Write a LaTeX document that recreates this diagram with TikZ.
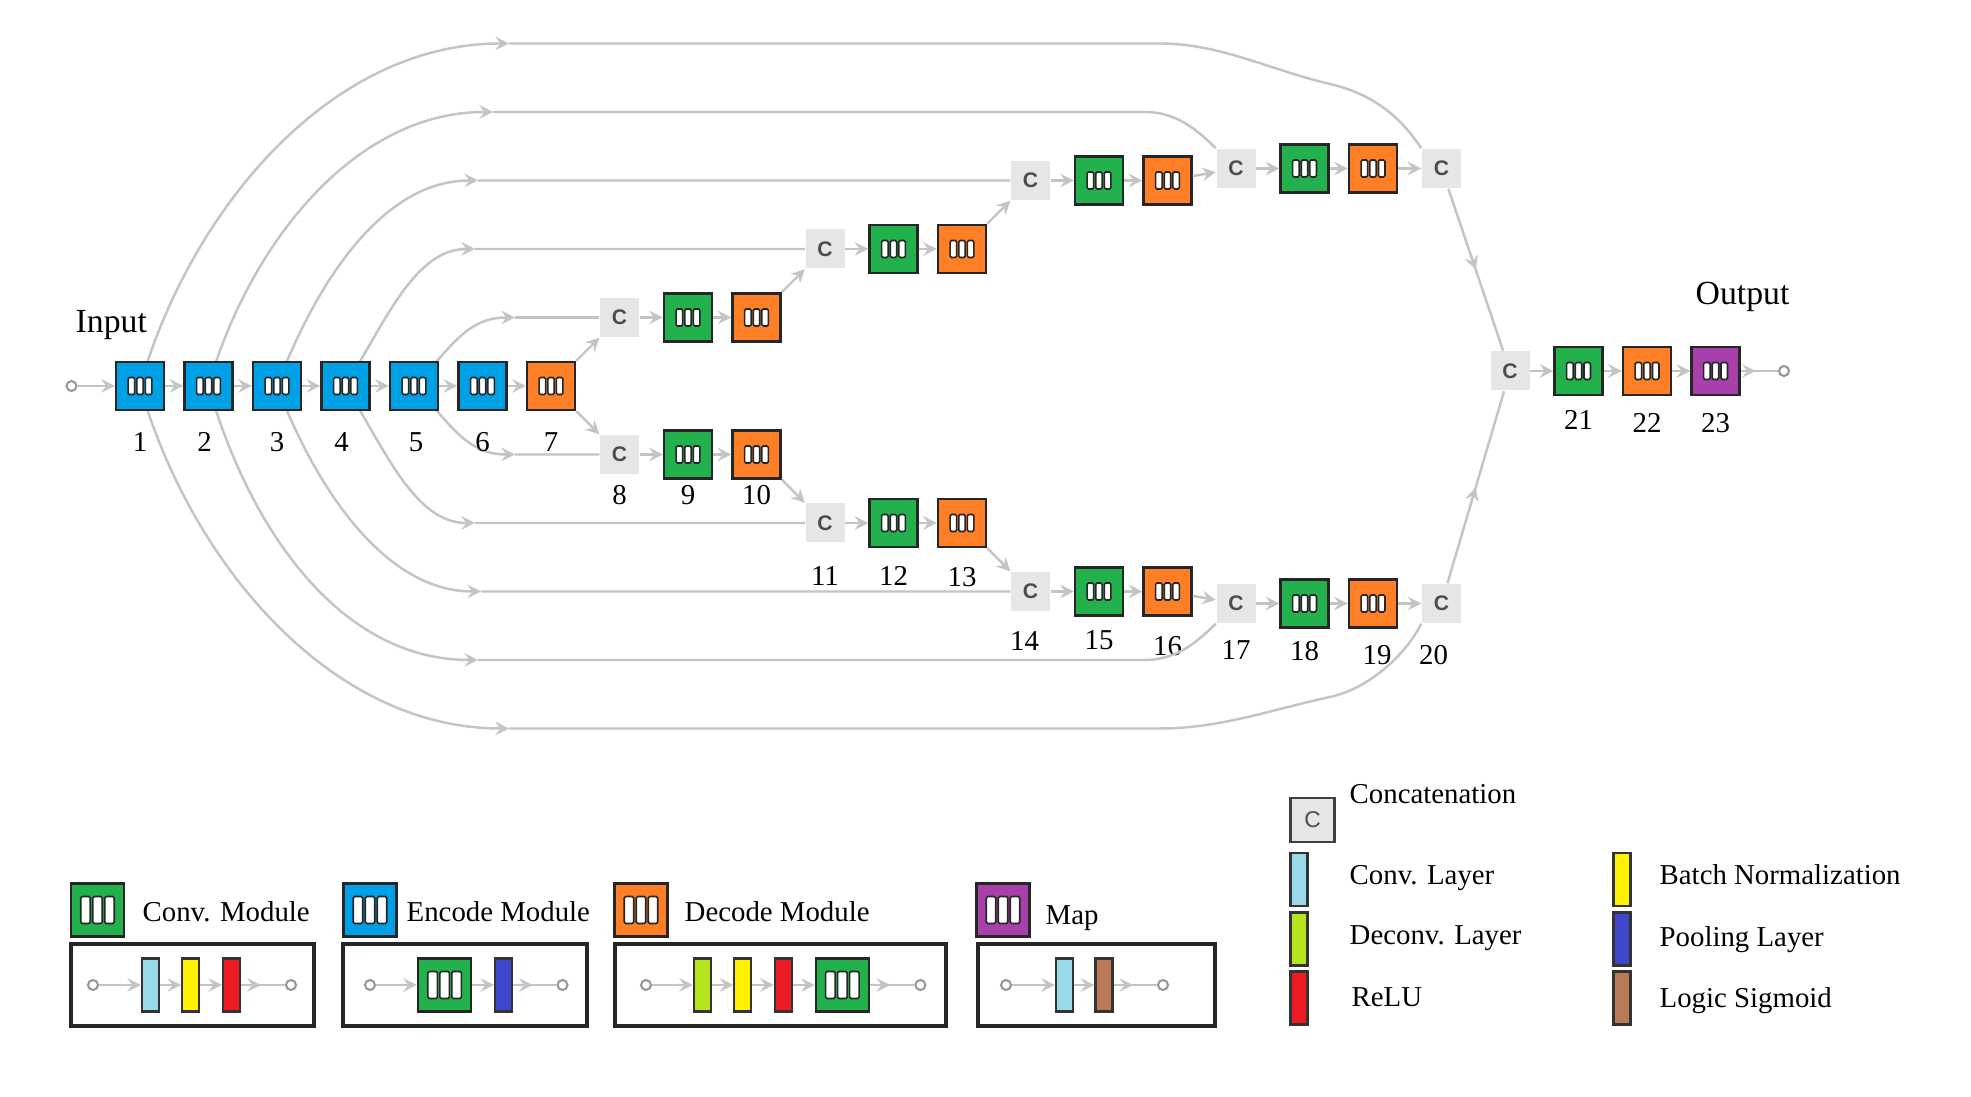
\documentclass[tikz,border=0pt]{standalone}
\usepackage{fontspec}
\setmainfont{Liberation Serif}
\setsansfont{Liberation Sans}
\usepackage{xcolor}
\usepackage{tikz}
\usetikzlibrary{arrows, positioning, backgrounds, calc, decorations.markings}

\definecolor{encblue}{RGB}{0,160,230}
\definecolor{convgreen}{RGB}{34,177,76}
\definecolor{decorange}{RGB}{255,127,39}
\definecolor{mappurple}{RGB}{168,64,172}
\definecolor{concatgray}{RGB}{230,230,230}
\definecolor{linkgray}{RGB}{196,196,196}
\definecolor{convlayer}{RGB}{153,217,234}
\definecolor{deconvlayer}{RGB}{181,230,29}
\definecolor{bnyellow}{RGB}{255,242,0}
\definecolor{relured}{RGB}{237,28,36}
\definecolor{poolblue}{RGB}{63,72,204}
\definecolor{sigbrown}{RGB}{185,122,87}

\tikzset{
  bars/.style n args={3}{path picture={
      \foreach \k in {-1,0,1}
        \draw[fill=white, draw=black!85, line width=0.45pt, rounded corners=0.4pt]
          ([xshift=\k*#2cm-#1cm/2, yshift=-#3cm/2]path picture bounding box.center) rectangle ++(#1,#3);
    }},
  midarrow/.style={postaction={decorate},
    decoration={markings, mark=at position #1 with {\arrow{stealth}}}}
}
\tikzstyle{module} = [rectangle, draw=black!85, line width=0.7pt, minimum size=0.48cm, inner sep=0pt, bars={0.065}{0.087}{0.17}]
\tikzstyle{encmod} = [module, fill=encblue]
\tikzstyle{convmod} = [module, fill=convgreen]
\tikzstyle{decmod} = [module, fill=decorange]
\tikzstyle{mapmod} = [module, fill=mappurple]
\tikzstyle{iconmod} = [minimum size=0.53cm, bars={0.095}{0.12}{0.27}]
\tikzstyle{concat} = [rectangle, fill=concatgray, minimum size=0.39cm, inner sep=0pt, text=black!70, font=\sffamily\bfseries\fontsize{6}{7}\selectfont]
\tikzstyle{port} = [circle, draw=black!40, fill=white, line width=0.6pt, minimum size=0.1cm, inner sep=0pt]
\tikzstyle{layerbar} = [rectangle, draw=black!80, line width=0.6pt, minimum width=0.17cm, minimum height=0.53cm, inner sep=0pt]
\tikzstyle{legframe} = [rectangle, draw=black!85, line width=1pt, minimum height=0.82cm, inner sep=0pt]
\tikzstyle{wire} = [draw, color=linkgray, line width=0.7pt]
\tikzstyle{link} = [wire, ->, >=stealth]
\tikzstyle{num} = [inner sep=0pt, font=\fontsize{8.2}{10}\selectfont]
\tikzstyle{legtext} = [anchor=base west, inner sep=0pt, font=\fontsize{8.2}{10}\selectfont]

\begin{document}
\begin{tikzpicture}[node distance=0.685cm, on grid]
  \useasboundingbox (0,0) rectangle (19.71,10.97);

  % Encoder row
  \node (e1) [encmod] at (1.40,7.11) {};
  \node (e2) [encmod, right=of e1] {};
  \node (e3) [encmod, right=of e2] {};
  \node (e4) [encmod, right=of e3] {};
  \node (e5) [encmod, right=of e4] {};
  \node (e6) [encmod, right=of e5] {};
  \node (d7) [decmod, right=of e6] {};
  \node (inp) [port, left=of e1] {};
  \node (inlabel) [anchor=base west, inner sep=0pt, font=\fontsize{9.6}{11}\selectfont] at (0.75,7.64) {Input};

  % Upper decoder branch
  \node (ca) [concat, above right=0.685cm and 0.685cm of d7] {C};
  \node (ga) [convmod, right=of ca] {};
  \node (oa) [decmod, right=of ga] {};
  \node (cb) [concat, above right=0.685cm and 0.685cm of oa] {C};
  \node (gb) [convmod, right=of cb] {};
  \node (ob) [decmod, right=of gb] {};
  \node (cc) [concat, above right=0.685cm and 0.685cm of ob] {C};
  \node (gc) [convmod, right=of cc] {};
  \node (oc) [decmod, right=of gc] {};
  \node (cd) [concat, above right=0.12cm and 0.685cm of oc] {C};
  \node (gd) [convmod, right=of cd] {};
  \node (od) [decmod, right=of gd] {};
  \node (ce) [concat, right=of od] {C};

  % Lower decoder branch
  \node (c8) [concat, below right=0.685cm and 0.685cm of d7] {C};
  \node (g9) [convmod, right=of c8] {};
  \node (o10) [decmod, right=of g9] {};
  \node (c11) [concat, below right=0.685cm and 0.685cm of o10] {C};
  \node (g12) [convmod, right=of c11] {};
  \node (o13) [decmod, right=of g12] {};
  \node (c14) [concat, below right=0.685cm and 0.685cm of o13] {C};
  \node (g15) [convmod, right=of c14] {};
  \node (o16) [decmod, right=of g15] {};
  \node (c17) [concat, below right=0.12cm and 0.685cm of o16] {C};
  \node (g18) [convmod, right=of c17] {};
  \node (o19) [decmod, right=of g18] {};
  \node (c20) [concat, right=of o19] {C};

  % Output stage
  \node (cf) [concat] at (15.10,7.26) {C};
  \node (g21) [convmod, right=of cf] {};
  \node (o22) [decmod, right=of g21] {};
  \node (m23) [mapmod, right=of o22] {};
  \node (outp) [port, right=of m23] {};
  \node (outlabel) [anchor=base west, inner sep=0pt, font=\fontsize{9.6}{11}\selectfont] at (16.95,7.92) {Output};

  % Layer numbers
  \foreach \n/\t/\d/\s in {e1/1/0.56cm/0cm, e2/2/0.56cm/-0.04cm, e3/3/0.56cm/0cm, e4/4/0.56cm/-0.04cm,
      e5/5/0.56cm/0.02cm, e6/6/0.56cm/0cm, d7/7/0.56cm/0cm, c8/8/0.41cm/0cm, g9/9/0.41cm/0cm,
      o10/10/0.41cm/0cm, c11/11/0.53cm/0cm, g12/12/0.53cm/0cm, o13/13/0.54cm/0cm,
      c14/14/0.49cm/-0.06cm, g15/15/0.49cm/0cm, o16/16/0.55cm/0cm, c17/17/0.46cm/0cm,
      g18/18/0.48cm/0cm, o19/19/0.52cm/0.04cm, c20/20/0.52cm/-0.08cm,
      g21/21/0.49cm/0cm, o22/22/0.52cm/0cm, m23/23/0.52cm/0cm}
    \node (n\t) [num, below=\d of \n, xshift=\s] {\t};

  % Skip connections
  \coordinate (t1) at (5.09,10.535);
  \coordinate (t2) at (4.93,9.85);
  \coordinate (t3) at (4.78,9.165);
  \coordinate (t4) at (4.75,8.48);
  \coordinate (t5) at (5.15,7.795);
  \coordinate (b1) at (5.09,3.685);
  \coordinate (b2) at (4.78,4.37);
  \coordinate (b3) at (4.81,5.055);
  \coordinate (b4) at (4.75,5.74);
  \coordinate (b5) at (5.15,6.425);
  \coordinate (t1r) at (11.6,10.535);
  \coordinate (t1m) at (13.3,10.13);
  \coordinate (t2r) at (11.45,9.85);
  \coordinate (b1r) at (11.6,3.685);
  \coordinate (b1m) at (13.3,4.0);
  \coordinate (b2r) at (11.45,4.37);

  \begin{scope}[on background layer]
    \fill[white] (0,0) rectangle (19.71,10.97);
    \draw[link] (e1.center) .. controls +(0.5,1.75) and +(-1.8,0) .. (t1);
    \draw[link] (e2.center) .. controls +(0.4,1.4) and +(-1.4,0) .. (t2);
    \draw[link] (e3.center) .. controls +(0.4,1.05) and +(-0.95,0) .. (t3);
    \draw[link] (e4.center) .. controls +(0.4,0.65) and +(-0.6,0) .. (t4);
    \draw[link] (e5.center) .. controls +(0.35,0.35) and +(-0.5,0) .. (t5);
    \draw[link] (e1.center) .. controls +(0.5,-1.75) and +(-1.8,0) .. (b1);
    \draw[link] (e2.center) .. controls +(0.4,-1.4) and +(-1.4,0) .. (b2);
    \draw[link] (e3.center) .. controls +(0.4,-1.05) and +(-0.95,0) .. (b3);
    \draw[link] (e4.center) .. controls +(0.4,-0.65) and +(-0.6,0) .. (b4);
    \draw[link] (e5.center) .. controls +(0.35,-0.35) and +(-0.5,0) .. (b5);
  \end{scope}

  \draw[wire] (t5) -- (ca);
  \draw[wire] (t4) -- (cb);
  \draw[wire] (t3) -- (cc);
  \draw[wire] (t2) -- (t2r) .. controls +(0.3,0) and +(-0.2,0.2) .. (cd.north west);
  \draw[wire] (t1) -- (t1r) .. controls +(0.6,0) and +(-0.6,0.14) .. (t1m)
    .. controls +(0.45,-0.106) and +(-0.2,0.3) .. (ce.north west);
  \draw[wire] (b5) -- (c8);
  \draw[wire] (b4) -- (c11);
  \draw[wire] (b3) -- (c14);
  \draw[wire] (b2) -- (b2r) .. controls +(0.3,0) and +(-0.2,-0.2) .. (c17.south west);
  \draw[wire] (b1) -- (b1r) .. controls +(0.6,0) and +(-0.6,-0.13) .. (b1m)
    .. controls +(0.4,0.087) and +(-0.15,-0.3) .. (c20.south west);

  % Chain links
  \foreach \a/\b in {inp/e1, e1/e2, e2/e3, e3/e4, e4/e5, e5/e6, e6/d7,
      ca/ga, ga/oa, cb/gb, gb/ob, cc/gc, gc/oc, oc/cd, cd/gd, gd/od, od/ce,
      c8/g9, g9/o10, c11/g12, g12/o13, c14/g15, g15/o16, o16/c17, c17/g18, g18/o19, o19/c20,
      cf/g21, g21/o22, o22/m23}
    \draw[link] (\a) -- (\b);
  \draw[link] (d7.north east) -- (ca.south west);
  \draw[link] (d7.south east) -- (c8.north west);
  \draw[link] (oa.north east) -- (cb.south west);
  \draw[link] (o10.south east) -- (c11.north west);
  \draw[link] (ob.north east) -- (cc.south west);
  \draw[link] (o13.south east) -- (c14.north west);
  \draw[wire, midarrow=0.5] (ce) -- (cf);
  \draw[wire, midarrow=0.5] (c20) -- (cf);
  \draw[wire, midarrow=0.4] (m23) -- (outp);

  % Module legend
  \node (f1) [legframe, minimum width=2.43cm] at (1.925,1.12) {};
  \node (f2) [legframe, minimum width=2.435cm] at (4.65,1.12) {};
  \node (f3) [legframe, minimum width=3.31cm] at (7.805,1.12) {};
  \node (f4) [legframe, minimum width=2.37cm] at (10.965,1.12) {};
  \node (i1) [convmod, iconmod] at (0.975,1.87) {};
  \node (i2) [encmod, iconmod] at (3.70,1.87) {};
  \node (i3) [decmod, iconmod] at (6.41,1.87) {};
  \node (i4) [mapmod, iconmod] at (10.03,1.87) {};
  \node (li1) [legtext] at (1.42,1.753) {Conv. Module};
  \node (li2) [legtext] at (4.06,1.753) {Encode Module};
  \node (li3) [legtext] at (6.84,1.753) {Decode Module};
  \node (li4) [legtext] at (10.45,1.72) {Map};

  % Conv. Module
  \node (p1) [port] at (0.93,1.12) {};
  \node (cl1) [layerbar, fill=convlayer] at (1.505,1.12) {};
  \node (bn1) [layerbar, fill=bnyellow] at (1.907,1.12) {};
  \node (re1) [layerbar, fill=relured] at (2.316,1.12) {};
  \node (q1) [port] at (2.91,1.12) {};
  % Encode Module
  \node (p2) [port] at (3.70,1.12) {};
  \node (cv2) [convmod, iconmod] at (4.446,1.12) {};
  \node (pl2) [layerbar, fill=poolblue] at (5.036,1.12) {};
  \node (q2) [port] at (5.625,1.12) {};
  % Decode Module
  \node (p3) [port] at (6.46,1.12) {};
  \node (dc3) [layerbar, fill=deconvlayer] at (7.024,1.12) {};
  \node (bn3) [layerbar, fill=bnyellow] at (7.429,1.12) {};
  \node (re3) [layerbar, fill=relured] at (7.833,1.12) {};
  \node (cv3) [convmod, iconmod] at (8.424,1.12) {};
  \node (q3) [port] at (9.204,1.12) {};
  % Map
  \node (p4) [port] at (10.06,1.12) {};
  \node (cl4) [layerbar, fill=convlayer] at (10.645,1.12) {};
  \node (sg4) [layerbar, fill=sigbrown] at (11.04,1.12) {};
  \node (q4) [port] at (11.63,1.12) {};

  \foreach \a/\b in {p1/cl1, cl1/bn1, bn1/re1, p2/cv2, cv2/pl2, p3/dc3, dc3/bn3, bn3/re3, re3/cv3, p4/cl4, cl4/sg4}
    \draw[link] (\a) -- (\b);
  \foreach \a/\b in {re1/q1, pl2/q2, cv3/q3, sg4/q4}
    \draw[wire, midarrow=0.45] (\a) -- (\b);

  % Layer legend
  \node (kc) [concat, draw=black!75, line width=0.8pt, minimum size=0.44cm, font=\sffamily\fontsize{6.5}{7}\selectfont] at (13.125,2.77) {C};
  \node (kct) [legtext] at (13.49,2.937) {Concatenation};
  \node (k1) [layerbar, fill=convlayer] at (12.99,2.175) {};
  \node (k2) [layerbar, fill=deconvlayer] at (12.99,1.58) {};
  \node (k3) [layerbar, fill=relured] at (12.99,0.99) {};
  \node (k4) [layerbar, fill=bnyellow] at (16.22,2.175) {};
  \node (k5) [layerbar, fill=poolblue] at (16.22,1.58) {};
  \node (k6) [layerbar, fill=sigbrown] at (16.22,0.99) {};
  \node (k1t) [legtext] at (13.49,2.12) {Conv. Layer};
  \node (k2t) [legtext] at (13.49,1.52) {Deconv. Layer};
  \node (k3t) [legtext] at (13.51,0.903) {ReLU};
  \node (k4t) [legtext] at (16.59,2.12) {Batch Normalization};
  \node (k5t) [legtext] at (16.59,1.503) {Pooling Layer};
  \node (k6t) [legtext] at (16.59,0.89) {Logic Sigmoid};
\end{tikzpicture}
\end{document}
